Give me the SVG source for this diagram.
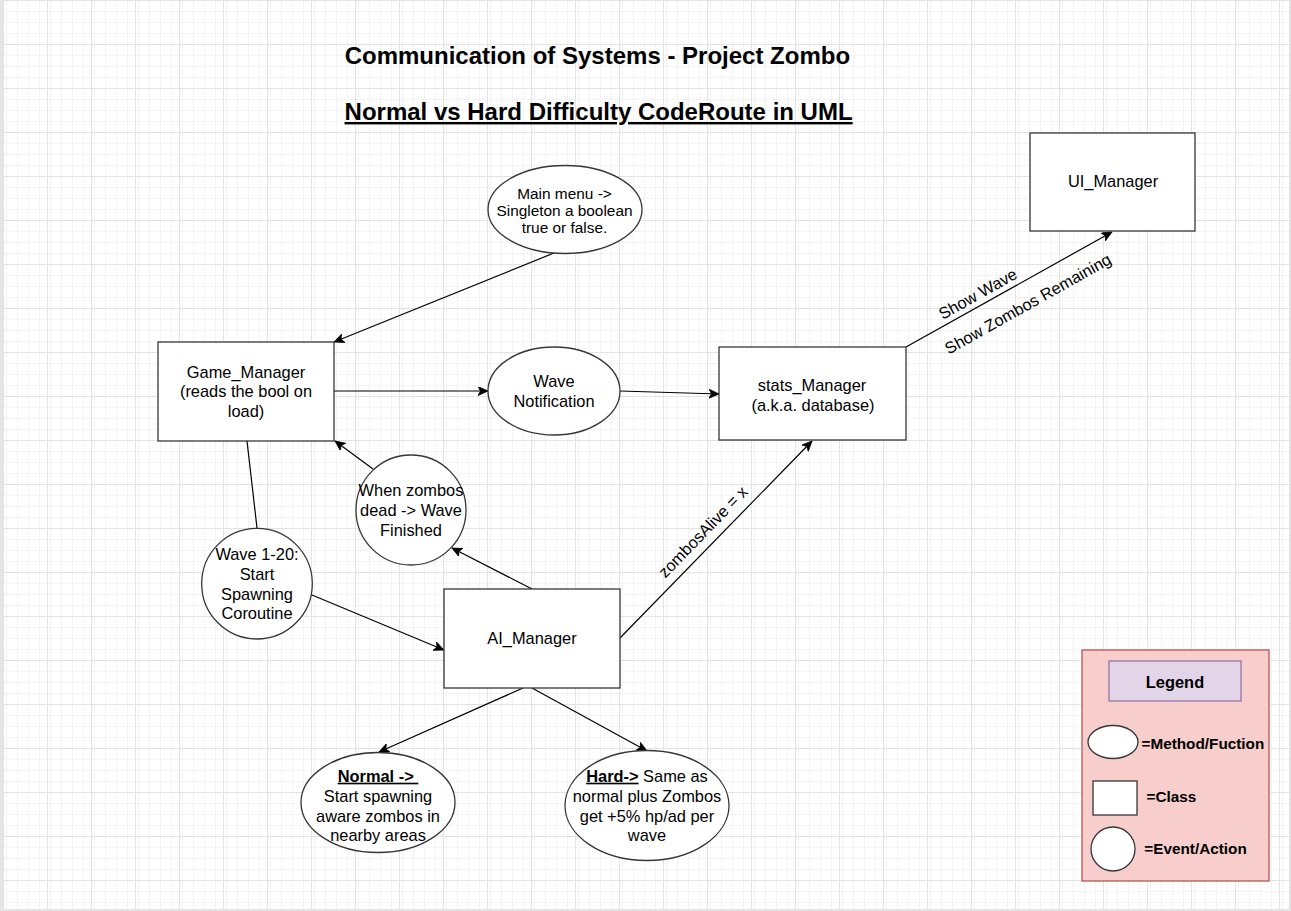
<svg xmlns="http://www.w3.org/2000/svg" width="1291" height="911" viewBox="0 0 1291 911">
<defs>
<pattern id="minor" x="3" y="0" width="11" height="11" patternUnits="userSpaceOnUse">
<path d="M0.5,0 V11 M0,0.5 H11" fill="none" stroke="#f3f3f3" stroke-width="1"/>
</pattern>
<pattern id="major" x="3" y="0" width="44" height="44" patternUnits="userSpaceOnUse">
<rect width="44" height="44" fill="url(#minor)"/>
<path d="M0.5,0 V44 M0,0.5 H44" fill="none" stroke="#e3e3e3" stroke-width="1"/>
</pattern>
<marker id="arr" markerUnits="userSpaceOnUse" markerWidth="11" markerHeight="10" refX="10" refY="4.5" orient="auto" viewBox="0 0 11 10">
<path d="M0,0 L10,4.5 L0,9 L2.5,4.5 Z" fill="#000" stroke="#000" stroke-width="0.8"/>
</marker>
<style>
.t{font-family:"Liberation Sans",Arial,sans-serif;font-size:16.4px;fill:#000;text-anchor:middle}
.s{font-size:15.4px}
.b{font-weight:bold}
.u{text-decoration:underline}
.ttl{font-family:"Liberation Sans",Arial,sans-serif;font-size:24px;font-weight:bold;fill:#000;text-anchor:middle}
.lg{font-family:"Liberation Sans",Arial,sans-serif;font-size:15.3px;font-weight:bold;fill:#000}
.node{fill:#fff;stroke:#363636;stroke-width:1.3}
.edge{fill:none;stroke:#000;stroke-width:1.2}
.arrow{marker-end:url(#arr)}
</style>
</defs>
<rect x="0" y="0" width="1291" height="911" fill="#e4e4e4"/>
<rect x="3" y="0" width="1286" height="909" fill="#fff"/>
<rect x="3" y="0" width="1286" height="909" fill="url(#major)"/>

<g id="title">
<text class="ttl" x="597.4" y="63.5">Communication of Systems - Project Zombo</text>
<text class="ttl u" x="598.6" y="120">Normal vs Hard Difficulty CodeRoute in UML</text>
</g>

<g id="connectors">
<path class="edge arrow" d="M554,253 L334,342"/>
<path class="edge arrow" d="M334,391 L488,391"/>
<path class="edge arrow" d="M620,391 L719,394"/>
<path class="edge arrow" d="M906,347 L1112,232"/>
<path class="edge arrow" d="M620,638 L812,441"/>
<path class="edge" d="M247,441 L257,528"/>
<path class="edge arrow" d="M312,595 L444,650"/>
<path class="edge arrow" d="M532,589 L452,548"/>
<path class="edge arrow" d="M373,469 L335,441"/>
<path class="edge arrow" d="M523,688 L379,752"/>
<path class="edge arrow" d="M532,688 L647,751"/>
<text class="t" transform="translate(978,294) rotate(-29.3)" x="0" y="5.5">Show Wave</text>
<text class="t" transform="translate(1028,304) rotate(-29.3)" x="0" y="5.5">Show Zombos Remaining</text>
<text class="t" transform="translate(703,532) rotate(-45.9)" x="0" y="5.5">zombosAlive = x</text>
</g>

<g id="main_menu">
<ellipse class="node" cx="565" cy="209.5" rx="77" ry="44"/>
<text class="t s" x="564.5" y="199">Main menu -&gt;</text>
<text class="t s" x="564.5" y="216">Singleton a boolean</text>
<text class="t s" x="564.5" y="232.7">true or false.</text>
</g>

<g id="game_manager">
<rect class="node" x="158" y="342" width="176" height="99"/>
<text class="t" x="246" y="378">Game_Manager</text>
<text class="t" x="246" y="397">(reads the bool on</text>
<text class="t" x="246" y="416.5">load)</text>
</g>

<g id="wave_notification">
<ellipse class="node" cx="554" cy="391" rx="66" ry="44"/>
<text class="t" x="554" y="386.7">Wave</text>
<text class="t" x="554" y="406.7">Notification</text>
</g>

<g id="stats_manager">
<rect class="node" x="719" y="347" width="187" height="93"/>
<text class="t" x="812" y="390.7">stats_Manager</text>
<text class="t" x="813" y="410.5">(a.k.a. database)</text>
</g>

<g id="ui_manager">
<rect class="node" x="1030" y="133" width="165" height="98"/>
<text class="t" x="1113" y="187.3">UI_Manager</text>
</g>

<g id="wave_1_20">
<circle class="node" cx="257" cy="583.7" r="55.3"/>
<text class="t" x="257" y="560">Wave 1-20:</text>
<text class="t" x="257" y="580">Start</text>
<text class="t" x="257" y="599.5">Spawning</text>
<text class="t" x="257" y="618.5">Coroutine</text>
</g>

<g id="when_zombos_dead">
<circle class="node" cx="411" cy="510" r="55"/>
<text class="t" x="411" y="496">When zombos</text>
<text class="t" x="411" y="516">dead -&gt; Wave</text>
<text class="t" x="411" y="535.7">Finished</text>
</g>

<g id="ai_manager">
<rect class="node" x="444" y="589" width="176" height="99"/>
<text class="t" x="532" y="644.3">AI_Manager</text>
</g>

<g id="normal">
<ellipse class="node" cx="378" cy="802.5" rx="77" ry="50"/>
<text class="t b u" x="378" y="781.7" style="white-space:pre">Normal -&gt; </text>
<text class="t" x="378" y="801.7">Start spawning</text>
<text class="t" x="378" y="821.5">aware zombos in</text>
<text class="t" x="378" y="841">nearby areas</text>
</g>

<g id="hard">
<ellipse class="node" cx="647" cy="805.5" rx="82" ry="55"/>
<text class="t" x="647" y="781.7"><tspan class="b u">Hard-&gt;</tspan> Same as</text>
<text class="t" x="647" y="801.7">normal plus Zombos</text>
<text class="t" x="647" y="821.5">get +5% hp/ad per</text>
<text class="t" x="647" y="841">wave</text>
</g>

<g id="legend">
<rect x="1082" y="650" width="187" height="231" fill="#f8cecc" stroke="#b85450" stroke-width="1.3"/>
<rect x="1109" y="661" width="132" height="40" fill="#e1d5e7" stroke="#9673a6" stroke-width="1.3"/>
<text class="t b" x="1175" y="687.7">Legend</text>
<ellipse class="node" cx="1113" cy="742" rx="25" ry="16.5"/>
<text class="lg" x="1141.5" y="749">=Method/Fuction</text>
<rect class="node" x="1093" y="781" width="44" height="34"/>
<text class="lg" x="1146.5" y="801.7">=Class</text>
<circle class="node" cx="1113" cy="849" r="22"/>
<text class="lg" x="1144.3" y="854.3">=Event/Action</text>
</g>
</svg>
